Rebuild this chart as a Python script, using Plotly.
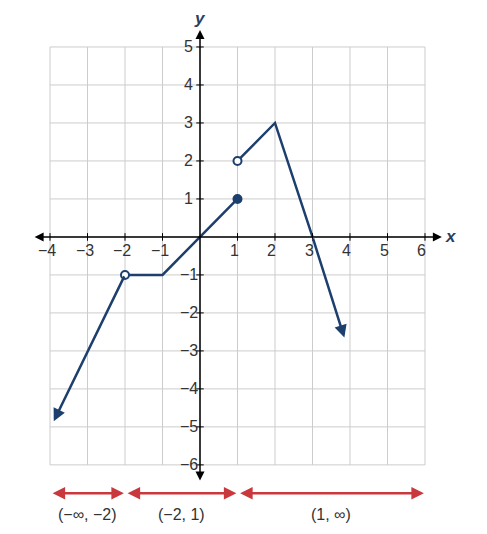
import plotly.graph_objects as go

x_ticks = [-4, -3, -2, -1, 1, 2, 3, 4, 5, 6]
y_ticks = [-6, -5, -4, -3, -2, -1, 1, 2, 3, 4, 5]
x_tick_labels = ["−4", "−3", "−2", "−1", "1", "2", "3", "4", "5", "6"]
y_tick_labels = ["−6", "−5", "−4", "−3", "−2", "−1", "1", "2", "3", "4", "5"]
# piecewise curve
seg1_x = [-2, -1, 1]
seg1_y = [-1, -1, 1]
seg2_x = [1, 2, 3]
seg2_y = [2, 3, 0]
arrow_left = (-3.9, -4.85)
arrow_right = (3.85, -2.65)
open_pts_x = [-2, 1]
open_pts_y = [-1, 2]
closed_pts_x = [1]
closed_pts_y = [1]
intervals = [(-4, -2), (-2, 1), (1, 6)]
interval_labels = ["(−∞, −2)", "(−2, 1)", "(1, ∞)"]

NAVY = "#1c3f6e"
RED = "#c8383c"
GRID = "#cccccc"
fig = go.Figure()
shapes = []
for gx in range(-4, 7):
    shapes.append(dict(type="line", x0=gx, x1=gx, y0=-6, y1=5, line=dict(color=GRID, width=1), layer="below"))
for gy in range(-6, 6):
    shapes.append(dict(type="line", x0=-4, x1=6, y0=gy, y1=gy, line=dict(color=GRID, width=1), layer="below"))
for t in x_ticks:
    shapes.append(dict(type="line", x0=t, x1=t, y0=-0.1, y1=0.1, line=dict(color="black", width=1)))
for t in y_ticks:
    shapes.append(dict(type="line", x0=-0.1, x1=0.1, y0=t, y1=t, line=dict(color="black", width=1)))

ann = []
def arrow(x0, y0, x1, y1, color, w=1.5, size=1.2, side="end"):
    ann.append(dict(x=x1, y=y1, ax=x0, ay=y0, xref="x", yref="y", axref="x", ayref="y",
                    showarrow=True, arrowhead=2, startarrowhead=2, arrowside=side,
                    arrowsize=size, startarrowsize=size,
                    arrowwidth=w, arrowcolor=color, text=""))
# axes
arrow(-4.45, 0, 6.45, 0, "black", side="end+start")
arrow(0, -6.45, 0, 5.45, "black", side="end+start")
for t, lab in zip(x_ticks, x_tick_labels):
    ann.append(dict(x=t - 0.08, y=-0.37, text=lab, showarrow=False, font=dict(size=16, color="#333")))
for t, lab in zip(y_ticks, y_tick_labels):
    ann.append(dict(x=-0.3, y=t, text=lab, showarrow=False, font=dict(size=16, color="#333")))
ann.append(dict(x=6.7, y=0, text="<b><i>x</i></b>", showarrow=False, font=dict(size=17)))
ann.append(dict(x=0, y=5.75, text="<b><i>y</i></b>", showarrow=False, font=dict(size=17)))
# curve arrows
arrow(-2, -1, arrow_left[0], arrow_left[1], NAVY, w=2.5, size=1)
arrow(3, 0, arrow_right[0], arrow_right[1], NAVY, w=2.5, size=1)
# intervals
for (a, b), lab in zip(intervals, interval_labels):
    arrow(a + 0.03, -6.75, b - 0.03, -6.75, RED, w=2.5, size=1, side="end+start")
    ann.append(dict(x=(a + b) / 2, y=-7.3, text=lab, showarrow=False, font=dict(size=16, color="#333")))

fig.add_trace(go.Scatter(x=seg1_x, y=seg1_y, mode="lines", line=dict(color=NAVY, width=2.5)))
fig.add_trace(go.Scatter(x=seg2_x, y=seg2_y, mode="lines", line=dict(color=NAVY, width=2.5)))
fig.add_trace(go.Scatter(x=open_pts_x, y=open_pts_y, mode="markers",
                         marker=dict(size=8, color="white", line=dict(color=NAVY, width=2))))
fig.add_trace(go.Scatter(x=closed_pts_x, y=closed_pts_y, mode="markers",
                         marker=dict(size=8, color=NAVY, line=dict(color=NAVY, width=2))))

fig.update_layout(width=487, height=534, margin=dict(l=0, r=0, t=0, b=0),
                  plot_bgcolor="white", paper_bgcolor="white", showlegend=False,
                  shapes=shapes, annotations=ann,
                  font=dict(family="Liberation Sans, Arial, sans-serif"),
                  xaxis=dict(range=[-5.12, 7.867], visible=False, fixedrange=True),
                  yaxis=dict(range=[-8.03, 6.026], visible=False, fixedrange=True))
fig.write_html("out.html")
